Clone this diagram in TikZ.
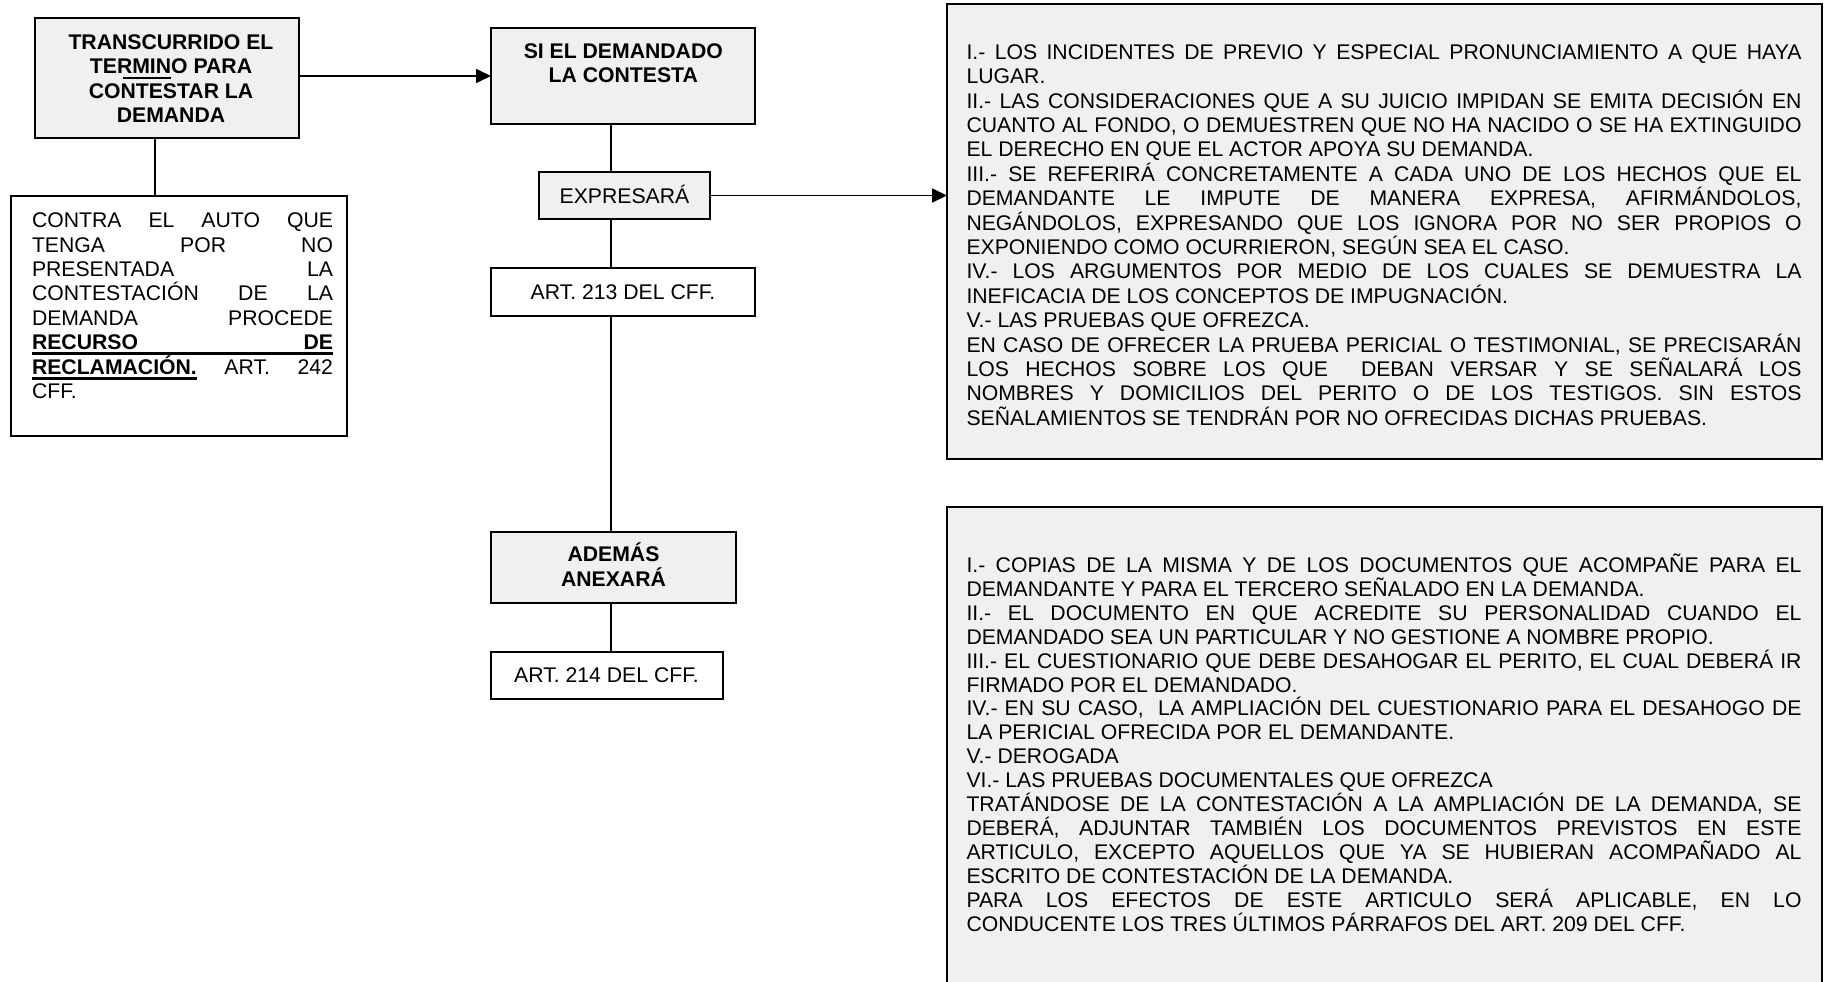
\documentclass[tikz,border=0pt]{standalone}
\usepackage{fontspec}
\setmainfont{Liberation Sans}
\usetikzlibrary{arrows.meta}
\definecolor{panelgray}{RGB}{240,240,240}

% A block of set lines: width, line pitch, lines
\newcommand\txtblock[3]{\vtop{\hsize=#1\relax\baselineskip=#2\relax
  \lineskiplimit=-30pt\lineskip=0pt\parindent=0pt\frenchspacing #3}}
\newcommand\jline[1]{\hbox to\hsize{#1}}          % justified line
\newcommand\lline[1]{\hbox{#1}}                    % last line of a paragraph
\newcommand\cenline[1]{\hbox to\hsize{\hfil#1\hfil}} % centred line
\newcommand\ulword[1]{\setbox0\hbox{#1}\rlap{\rule[-5.5pt]{\wd0}{2.6pt}}\box0\relax}

\tikzset{
  box/.style={draw=black, line width=1.7pt, inner sep=0pt, outer sep=0pt},
  graybox/.style={box, fill=panelgray},
  whitebox/.style={box, fill=white},
  link/.style={line width=1.7pt},
  arrowlink/.style={link, -{Triangle[length=15pt,width=14pt]}},
  txt/.style={inner sep=0pt, outer sep=0pt, font=\fontsize{21.2}{24.4}\selectfont},
  boldtxt/.style={txt, font=\fontsize{21.2}{24.4}\selectfont\bfseries},
}

\begin{document}
\begin{tikzpicture}[x=1pt, y=-1pt]
\useasboundingbox (0,0) rectangle (1825,982);
\fill[white] (0,0) rectangle (1825,982);

% boxes
\node[graybox,  minimum width=264pt, minimum height=120pt] (b1) at (167,78) {};
\node[whitebox, minimum width=336pt, minimum height=240pt] (b2) at (179,316) {};
\node[graybox,  minimum width=264pt, minimum height=96pt]  (b3) at (623,76) {};
\node[graybox,  minimum width=171pt, minimum height=47pt]  (b4) at (624.5,195.5) {};
\node[whitebox, minimum width=264pt, minimum height=48pt]  (b5) at (623,292) {};
\node[graybox,  minimum width=245pt, minimum height=71pt]  (b6) at (613.5,567.5) {};
\node[whitebox, minimum width=232pt, minimum height=47pt]  (b7) at (607,675.5) {};
\node[graybox,  minimum width=875pt, minimum height=455pt] (bA) at (1384.5,231.5) {};
\node[graybox,  minimum width=875pt, minimum height=493pt] (bB) at (1384.5,753.5) {};

% connectors
\coordinate (spine) at (611,0);
\draw[link] ([xshift=-12pt]b1.south) -- ([xshift=-12pt]b1.south |- b2.north);
\draw[arrowlink] (b1.east |- b3.west) -- (b3.west);
\draw[link] (b3.south -| spine) -- (b4.north -| spine);
\draw[link] (b4.south -| spine) -- (b5.north -| spine);
\draw[link] (b5.south -| spine) -- (b6.north -| spine);
\draw[link] (b6.south -| spine) -- (b7.north -| spine);
\draw[arrowlink] (b4.east) -- (b4.east -| bA.west);

% texts
\node[boldtxt, anchor=base] (t1) at (171,49.3) {\txtblock{250pt}{24.4pt}{%
  \cenline{TRANSCURRIDO EL}\cenline{TERMINO PARA}\cenline{CONTESTAR LA}\cenline{DEMANDA}}};
\draw[line width=1.4pt] (123,78) -- (171,78);

\node[txt, anchor=base west] (t2) at (32,227.6) {\txtblock{301pt}{24.4pt}{%
  \jline{CONTRA EL AUTO QUE}
  \jline{TENGA POR NO}
  \jline{PRESENTADA LA}
  \jline{CONTESTACIÓN DE LA}
  \jline{DEMANDA PROCEDE}
  \jline{\rlap{\rule[-5.2pt]{\hsize}{3.2pt}}\bfseries RECURSO\hfill DE}
  \jline{\ulword{\bfseries RECLAMACIÓN.} ART. 242}
  \lline{CFF.}}};

\node[boldtxt, anchor=base] (t3) at (623.3,58.3) {\txtblock{250pt}{24.4pt}{%
  \cenline{SI EL DEMANDADO}\cenline{LA CONTESTA}}};
\node[txt, anchor=base] (t4) at (624.5,203.3) {EXPRESARÁ};
\node[txt, anchor=base] (t5) at (623,299) {ART. 213 DEL CFF.};
\node[boldtxt, anchor=base] (t6) at (613.5,561.7) {\txtblock{230pt}{25pt}{%
  \cenline{ADEMÁS}\cenline{ANEXARÁ}}};
\node[txt, anchor=base] (t7) at (606.5,682.3) {ART. 214 DEL CFF.};

\node[txt, anchor=base west] (tA) at (966.5,59.3) {\txtblock{835pt}{24.4pt}{%
  \jline{I.- LOS INCIDENTES DE PREVIO Y ESPECIAL PRONUNCIAMIENTO A QUE HAYA}
  \lline{LUGAR.}
  \jline{II.- LAS CONSIDERACIONES QUE A SU JUICIO IMPIDAN SE EMITA DECISIÓN EN}
  \jline{CUANTO AL FONDO, O DEMUESTREN QUE NO HA NACIDO O SE HA EXTINGUIDO}
  \lline{EL DERECHO EN QUE EL ACTOR APOYA SU DEMANDA.}
  \jline{III.- SE REFERIRÁ CONCRETAMENTE A CADA UNO DE LOS HECHOS QUE EL}
  \jline{DEMANDANTE LE IMPUTE DE MANERA EXPRESA, AFIRMÁNDOLOS,}
  \jline{NEGÁNDOLOS, EXPRESANDO QUE LOS IGNORA POR NO SER PROPIOS O}
  \lline{EXPONIENDO COMO OCURRIERON, SEGÚN SEA EL CASO.}
  \jline{IV.- LOS ARGUMENTOS POR MEDIO DE LOS CUALES SE DEMUESTRA LA}
  \lline{INEFICACIA DE LOS CONCEPTOS DE IMPUGNACIÓN.}
  \lline{V.- LAS PRUEBAS QUE OFREZCA.}
  \jline{EN CASO DE OFRECER LA PRUEBA PERICIAL O TESTIMONIAL, SE PRECISARÁN}
  \jline{LOS HECHOS SOBRE LOS QUE\ \ DEBAN VERSAR Y SE SEÑALARÁ LOS}
  \jline{NOMBRES Y DOMICILIOS DEL PERITO O DE LOS TESTIGOS. SIN ESTOS}
  \lline{SEÑALAMIENTOS SE TENDRÁN POR NO OFRECIDAS DICHAS PRUEBAS.}}};

\node[txt, anchor=base west] (tB) at (966.5,572.5) {\txtblock{835pt}{23.9pt}{%
  \jline{I.- COPIAS DE LA MISMA Y DE LOS DOCUMENTOS QUE ACOMPAÑE PARA EL}
  \lline{DEMANDANTE Y PARA EL TERCERO SEÑALADO EN LA DEMANDA.}
  \jline{II.- EL DOCUMENTO EN QUE ACREDITE SU PERSONALIDAD CUANDO EL}
  \lline{DEMANDADO SEA UN PARTICULAR Y NO GESTIONE A NOMBRE PROPIO.}
  \jline{III.- EL CUESTIONARIO QUE DEBE DESAHOGAR EL PERITO, EL CUAL DEBERÁ IR}
  \lline{FIRMADO POR EL DEMANDADO.}
  \jline{IV.- EN SU CASO,\ \ LA AMPLIACIÓN DEL CUESTIONARIO PARA EL DESAHOGO DE}
  \lline{LA PERICIAL OFRECIDA POR EL DEMANDANTE.}
  \lline{V.- DEROGADA}
  \lline{VI.- LAS PRUEBAS DOCUMENTALES QUE OFREZCA}
  \jline{TRATÁNDOSE DE LA CONTESTACIÓN A LA AMPLIACIÓN DE LA DEMANDA, SE}
  \jline{DEBERÁ, ADJUNTAR TAMBIÉN LOS DOCUMENTOS PREVISTOS EN ESTE}
  \jline{ARTICULO, EXCEPTO AQUELLOS QUE YA SE HUBIERAN ACOMPAÑADO AL}
  \lline{ESCRITO DE CONTESTACIÓN DE LA DEMANDA.}
  \jline{PARA LOS EFECTOS DE ESTE ARTICULO SERÁ APLICABLE, EN LO}
  \lline{CONDUCENTE LOS TRES ÚLTIMOS PÁRRAFOS DEL ART. 209 DEL CFF.}}};
\end{tikzpicture}
\end{document}
